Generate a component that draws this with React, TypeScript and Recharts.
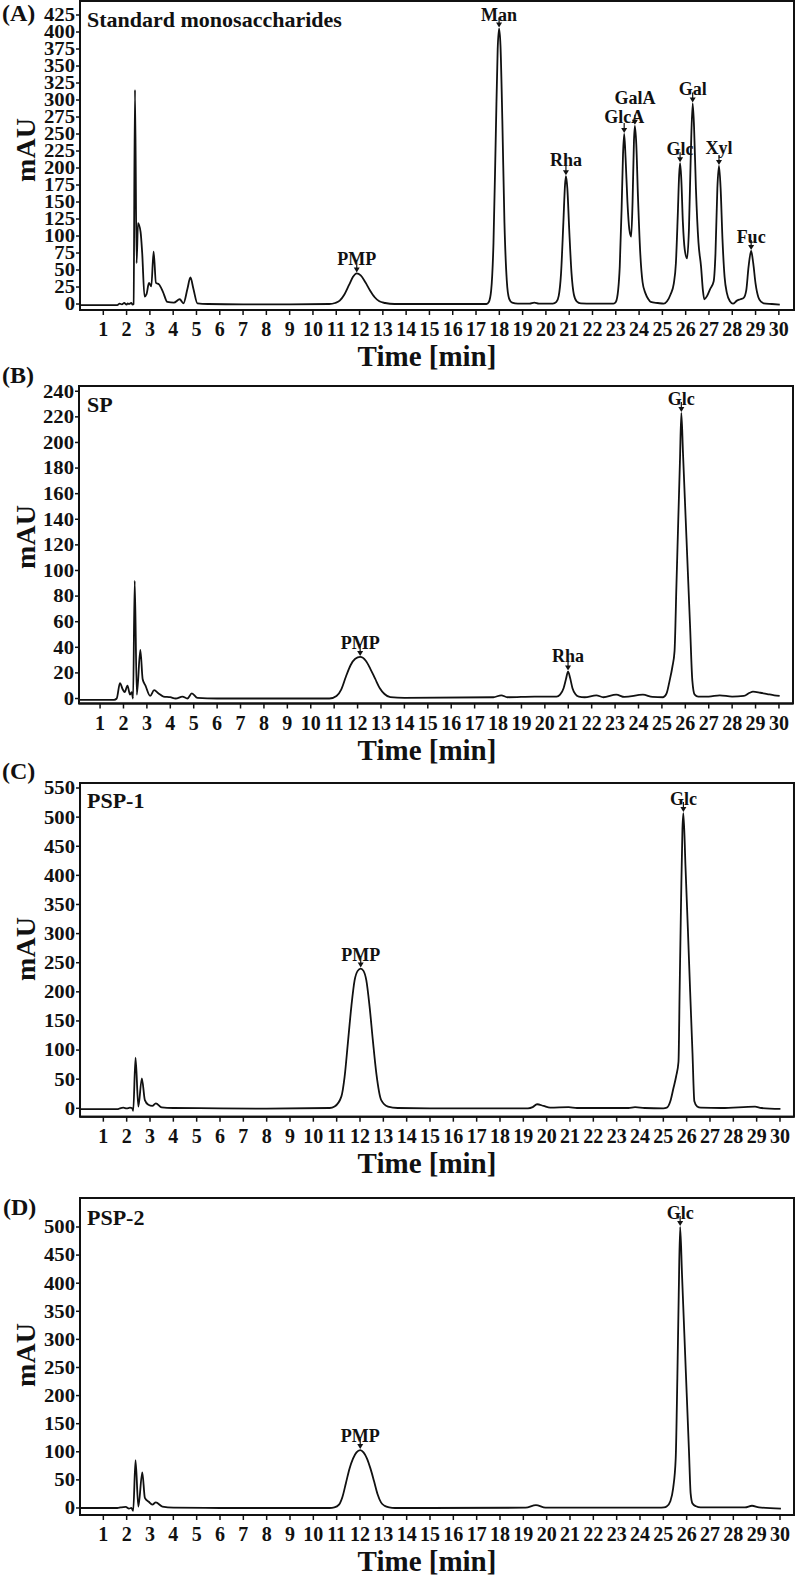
import React from "react";
import { ComposedChart, Line, XAxis, YAxis, ReferenceArea, ReferenceDot } from "recharts";

const W = 796;
const H = 1581;
const FONT = '"Liberation Serif", "Times New Roman", serif';
const INK = "#111";

// shared x ticks (min)
const ticksX = [1, 2, 3, 4, 5, 6, 7, 8, 9, 10, 11, 12, 13, 14, 15, 16, 17, 18, 19, 20, 21, 22, 23, 24, 25, 26, 27, 28, 29, 30];

// (A) standard monosaccharides
const timeA = [
  0, 1.6, 1.7, 1.8, 1.9, 2.0, 2.05, 2.1, 2.2, 2.26,
  2.30, 2.36, 2.43, 2.49, 2.60, 2.67, 2.77, 2.86, 2.96, 3.06,
  3.16, 3.26, 3.39, 3.56, 3.75, 4.03, 4.28, 4.44, 4.61, 4.74,
  4.87, 5.04, 5.5, 7, 9, 10.7, 10.95, 11.15, 11.35, 11.55,
  11.72, 11.88, 12.05, 12.25, 12.45, 12.65, 12.85, 13.1, 13.5, 15,
  17.45, 17.55, 17.65, 17.75, 17.85, 17.93, 17.99, 18.05, 18.13, 18.22,
  18.32, 18.42, 18.55, 18.8, 19.3, 19.5, 19.7, 20.3, 20.45, 20.55,
  20.65, 20.75, 20.82, 20.86, 20.92, 21.0, 21.1, 21.2, 21.32, 21.5,
  22.0, 22.7, 22.9, 23.0, 23.1, 23.17, 23.25, 23.31, 23.36, 23.42,
  23.5, 23.58, 23.66, 23.72, 23.78, 23.82, 23.88, 23.95, 24.05, 24.15,
  24.27, 24.4, 24.5, 24.8, 25.06, 25.2, 25.35, 25.49, 25.58, 25.66,
  25.72, 25.76, 25.81, 25.88, 25.96, 26.06, 26.14, 26.22, 26.30, 26.36,
  26.44, 26.55, 26.66, 26.74, 26.80, 26.92, 27.05, 27.2, 27.28, 27.36,
  27.43, 27.5, 27.58, 27.67, 27.77, 27.9, 28.03, 28.2, 28.35, 28.49,
  28.6, 28.7, 28.81, 28.9, 29.0, 29.12, 29.25, 29.35, 29.7, 30.04,
];
const mauA = [
  -1.5, -1.5, 0.5, -0.5, 1.5, -1, 1, 0, 1.5, -1,
  0, 315, 60, 119, 106, 75, 11, 15, 31, 26,
  77, 31, 29, 18, 3, 2, 7, 1, 22, 39,
  22, 1, 0, -0.5, -0.5, 0, 1.5, 5, 14, 28,
  40, 45, 42, 32, 20, 10, 4, 1.5, 0, 0,
  0, 3, 20, 90, 250, 375, 405, 380, 270, 120,
  35, 8, 2, 0.5, 0.5, 2, 0.5, 0.5, 3, 12,
  45, 120, 175, 188, 170, 110, 45, 14, 4, 1,
  0.5, 0.5, 0.5, 3, 20, 55, 140, 220, 250, 215,
  150, 110, 99, 150, 240, 262, 235, 160, 75, 32,
  16, 7, 3, 1.5, 0.5, 4, 14, 30, 60, 130,
  190, 207, 185, 120, 80, 67, 110, 220, 295, 260,
  170, 90, 55, 20, 7, 12, 22, 33, 75, 170,
  203, 170, 95, 40, 16, 4, 0.5, 5, 7, 9,
  20, 55, 78, 60, 30, 10, 3, 1, 0, -1,
];
const ticksA = [0, 25, 50, 75, 100, 125, 150, 175, 200, 225, 250, 275, 300, 325, 350, 375, 400, 425];
const peaksA = [
  { name: "PMP", t: 11.88, mau: 45 },
  { name: "Man", t: 17.99, mau: 405 },
  { name: "Rha", t: 20.86, mau: 188 },
  { name: "GlcA", t: 23.36, mau: 250 },
  { name: "GalA", t: 23.82, mau: 262 },
  { name: "Glc", t: 25.76, mau: 207 },
  { name: "Gal", t: 26.3, mau: 295 },
  { name: "Xyl", t: 27.43, mau: 203 },
  { name: "Fuc", t: 28.81, mau: 78 },
];

// (B) SP
const timeB = [
  0.1, 1.6, 1.71, 1.85, 1.97, 2.05, 2.17, 2.28, 2.35, 2.41,
  2.48, 2.57, 2.72, 2.82, 2.94, 3.14, 3.31, 3.5, 3.71, 4.0,
  4.23, 4.52, 4.73, 4.92, 5.16, 6, 8, 10.8, 11.1, 11.3,
  11.5, 11.7, 11.9, 12.11, 12.35, 12.55, 12.75, 12.95, 13.15, 13.4,
  14, 17.8, 18.14, 18.4, 19.56, 20.5, 20.65, 20.8, 20.9, 20.99,
  21.08, 21.18, 21.3, 21.45, 21.7, 22.2, 22.5, 23.05, 23.4, 24.19,
  24.6, 25.05, 25.2, 25.33, 25.45, 25.54, 25.62, 25.7, 25.77, 25.83,
  25.9, 25.98, 26.05, 26.11, 26.2, 26.3, 26.4, 26.55, 27.0, 27.47,
  28.0, 28.5, 28.75, 28.89, 29.2, 29.5, 29.8, 30.03,
];
const mauB = [
  -1, -1, 0, 12, 7, 5, 10, 3, 5, 0,
  92, 3, 38, 15, 10, 2, 6.5, 4, 1.5, 1,
  0, 1.5, 0, 4, 0.5, 0, 0, 0, 2, 7,
  17, 26, 31, 32.5, 29.5, 23, 15.5, 8, 3.5, 1,
  0.5, 1, 2.5, 1, 1.5, 1.5, 3, 8, 15, 21,
  16, 8, 3.5, 1.5, 1, 2.5, 1, 3, 1.2, 3,
  1.2, 1, 4, 14, 25, 37, 88, 140, 185, 223,
  192, 156, 125, 98, 58, 14, 3, 1.5, 1.5, 2.5,
  1.5, 2, 4.5, 5.3, 4.5, 3.5, 2.5, 2,
];
const ticksB = [0, 20, 40, 60, 80, 100, 120, 140, 160, 180, 200, 220, 240];
const peaksB = [
  { name: "PMP", t: 12.11, mau: 32.5 },
  { name: "Rha", t: 20.99, mau: 21 },
  { name: "Glc", t: 25.83, mau: 223 },
];

// (C) PSP-1
const timeC = [
  0, 1.6, 1.71, 1.86, 2.0, 2.14, 2.24, 2.28, 2.38, 2.5,
  2.65, 2.78, 2.93, 3.1, 3.25, 3.5, 4.0, 6, 8, 10.7,
  10.91, 11.2, 11.34, 11.48, 11.63, 11.77, 11.9, 12.03, 12.15, 12.27,
  12.41, 12.55, 12.7, 12.91, 13.2, 13.62, 15, 19.2, 19.4, 19.59,
  19.87, 20.15, 20.94, 21.3, 23.5, 23.79, 24.2, 25.0, 25.15, 25.3,
  25.43, 25.55, 25.65, 25.7, 25.76, 25.82, 25.86, 25.95, 26.05, 26.15,
  26.25, 26.33, 26.45, 26.6, 27.5, 28.93, 29.2, 30.02,
];
const mauC = [
  -1.5, -1.5, 0, 1, 0, 1, 0, -4.5, 87, 3,
  51.5, 14, 6, 4, 8.6, 1.5, 0.5, 0, -0.5, 0.5,
  3, 20, 54, 112, 175, 220, 236, 240, 236, 220,
  175, 117, 60, 14, 3, 0.5, 0, 0, 2, 7,
  4, 1, 2, 0.5, 0.5, 2, 0.5, 0, 1, 12,
  34, 55, 80, 205, 355, 480, 507, 415, 310, 200,
  95, 12, 3, 1, 0.5, 3, 0.5, -1,
];
const ticksC = [0, 50, 100, 150, 200, 250, 300, 350, 400, 450, 500, 550];
const peaksC = [
  { name: "PMP", t: 12.03, mau: 240 },
  { name: "Glc", t: 25.86, mau: 507 },
];

// (D) PSP-2
const timeD = [
  0, 1.6, 1.74, 1.96, 2.1, 2.2, 2.28, 2.38, 2.5, 2.67,
  2.78, 2.95, 3.1, 3.25, 3.53, 4.0, 6, 8, 10.7, 10.9,
  11.1, 11.25, 11.4, 11.55, 11.7, 11.85, 12.01, 12.15, 12.3, 12.45,
  12.6, 12.75, 12.9, 13.05, 13.25, 13.5, 15, 19.1, 19.54, 19.95,
  21, 24.8, 25.03, 25.15, 25.3, 25.42, 25.53, 25.6, 25.66, 25.72,
  25.8, 25.9, 26.0, 26.1, 26.17, 26.25, 26.4, 26.6, 28.5, 28.8,
  29.1, 30.04,
];
const mauD = [
  0, 0, 1, 2, -1, 0, -5, 85, 2.5, 63.5,
  18, 11, 6, 10, 2.5, 0.5, 0, 0, 0, 1,
  6, 20, 45, 70, 88, 99, 103, 99, 88, 70,
  48, 25, 10, 4, 1, 0, 0, 0.5, 5, 0.5,
  0.5, 0.5, 1, 3, 12, 35, 88, 230, 380, 500,
  416, 310, 205, 100, 26, 8, 3, 1, 1, 4,
  1, -1,
];
const ticksD = [0, 50, 100, 150, 200, 250, 300, 350, 400, 450, 500];
const peaksD = [
  { name: "PMP", t: 12.01, mau: 103 },
  { name: "Glc", t: 25.72, mau: 500 },
];

// extra lift (px) for crowded labels
const LIFT: Record<string, number> = { GlcA: 3, GalA: 14, Xyl: 4, Rha: 2 };

function peakShape(name: string) {
  return (props: any) => {
    const { cx, cy } = props;
    if (cx == null || cy == null) return <g />;
    const tip = cy - 1;
    const lift = LIFT[name] || 0;
    return (
      <g>
        <line x1={cx} y1={tip - 10} x2={cx} y2={tip - 4} stroke={INK} strokeWidth={1.2} />
        <path d={`M${cx - 3},${tip - 5} L${cx + 3},${tip - 5} L${cx},${tip} Z`} fill={INK} />
        <text x={cx} y={tip - 7 - lift} textAnchor="middle" fontFamily={FONT} fontSize={18} fontWeight={700} fill={INK}>
          {name}
        </text>
      </g>
    );
  };
}

// y tick labels in the figure are a bit wide and short
function YTick(props: any) {
  const { x, y, payload } = props;
  return (
    <text
      transform={`translate(${x},${y}) scale(1.15,1)`}
      textAnchor="end"
      dy="0.355em"
      fontFamily={FONT}
      fontSize={18}
      fontWeight={700}
      fill={INK}
    >
      {payload.value}
    </text>
  );
}

type Peak = { name: string; t: number; mau: number };

interface PanelProps {
  time: number[];
  mau: number[];
  peaks: Peak[];
  yTicks: number[];
  top: number;
  bottom: number;
  left: number;
  right: number;
  xDomain: [number, number];
  yDomain: [number, number];
}

function Panel({ time, mau, peaks, yTicks, top, bottom, left, right, xDomain, yDomain }: PanelProps) {
  const rows = time.map((t, i) => ({ t, mau: mau[i] }));
  const mTop = 10;
  const axisH = 40;
  const h = bottom - top + mTop + axisH;
  const tickFont = { fontFamily: FONT, fontSize: 20, fontWeight: 700, fill: INK };
  return (
    <div style={{ position: "absolute", left: 0, top: top - mTop, width: W, height: h }}>
      <ComposedChart width={W} height={h} data={rows} margin={{ top: mTop, right: W - right, bottom: 0, left: 0 }}>
        <XAxis
          dataKey="t"
          type="number"
          domain={xDomain}
          allowDataOverflow
          ticks={ticksX}
          interval={0}
          height={axisH}
          tickSize={5}
          tickMargin={7}
          axisLine={{ stroke: INK, strokeWidth: 2 }}
          tickLine={{ stroke: INK, strokeWidth: 1.5 }}
          tick={tickFont}
        />
        <YAxis
          type="number"
          domain={yDomain}
          allowDataOverflow
          ticks={yTicks}
          interval={0}
          width={left}
          tickSize={4}
          tickMargin={1}
          axisLine={{ stroke: INK, strokeWidth: 2 }}
          tickLine={{ stroke: INK, strokeWidth: 1.5 }}
          tick={<YTick />}
        />
        <ReferenceArea
          x1={xDomain[0]}
          x2={xDomain[1]}
          y1={yDomain[0]}
          y2={yDomain[1]}
          fill="none"
          stroke={INK}
          strokeWidth={2}
          ifOverflow="visible"
        />
        <Line
          type="monotone"
          dataKey="mau"
          stroke={INK}
          strokeWidth={1.8}
          dot={false}
          isAnimationActive={false}
        />
        {peaks.map((pk) => (
          <ReferenceDot
            key={pk.name}
            x={pk.t}
            y={pk.mau}
            r={0}
            ifOverflow="visible"
            shape={peakShape(pk.name)}
          />
        ))}
      </ComposedChart>
    </div>
  );
}

const textStyle = { fontFamily: FONT, fontWeight: 700, fill: INK } as const;

export default function App() {
  return (
    <div style={{ position: "absolute", left: 0, top: 0, width: W, height: H, background: "#fff" }}>
      <Panel time={timeA} mau={mauA} peaks={peaksA} yTicks={ticksA} top={1} bottom={310} left={80} right={794} xDomain={[0, 30.65]} yDomain={[-8.8, 445.6]} />
      <Panel time={timeB} mau={mauB} peaks={peaksB} yTicks={ticksB} top={386} bottom={703.5} left={79} right={793} xDomain={[0.1, 30.6]} yDomain={[-3.9, 244.1]} />
      <Panel time={timeC} mau={mauC} peaks={peaksC} yTicks={ticksC} top={783} bottom={1116.7} left={80} right={794} xDomain={[0, 30.6]} yDomain={[-14.4, 558.6]} />
      <Panel time={timeD} mau={mauD} peaks={peaksD} yTicks={ticksD} top={1198} bottom={1515} left={80} right={794} xDomain={[0, 30.6]} yDomain={[-12.5, 551.6]} />
      <svg width={W} height={H} style={{ position: "absolute", left: 0, top: 0, pointerEvents: "none" }}>
        <text x={2} y={21} fontSize={24} {...textStyle}>(A)</text>
        <text x={2} y={383} fontSize={24} {...textStyle}>(B)</text>
        <text x={2} y={779} fontSize={24} {...textStyle}>(C)</text>
        <text x={3} y={1215} fontSize={24} {...textStyle}>(D)</text>

        <text x={87} y={27} fontSize={22} {...textStyle}>Standard monosaccharides</text>
        <text x={87} y={412} fontSize={22} {...textStyle}>SP</text>
        <text x={87} y={808} fontSize={22} {...textStyle}>PSP-1</text>
        <text x={87} y={1225} fontSize={22} {...textStyle}>PSP-2</text>

        {[150, 537, 949, 1355].map((cy) => (
          <text key={cy} transform={`translate(35,${cy}) rotate(-90)`} textAnchor="middle" fontSize={28} {...textStyle}>
            mAU
          </text>
        ))}
        {[366, 760, 1173, 1571].map((by) => (
          <text key={by} x={427} y={by} textAnchor="middle" fontSize={29} {...textStyle}>
            Time [min]
          </text>
        ))}
      </svg>
    </div>
  );
}
